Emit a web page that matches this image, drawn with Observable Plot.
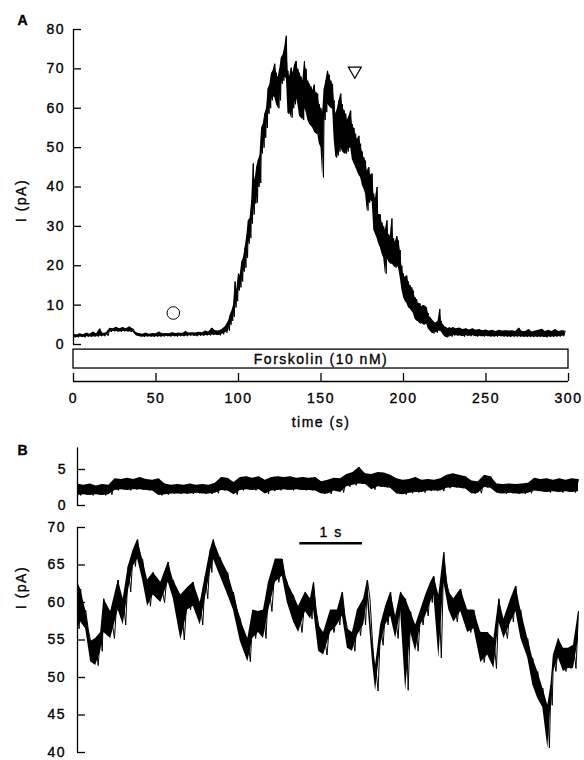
<!DOCTYPE html>
<html><head><meta charset="utf-8">
<script src="https://cdn.jsdelivr.net/npm/d3@7"></script>
<script src="https://cdn.jsdelivr.net/npm/@observablehq/plot@0.6"></script>
<style>
html,body{margin:0;padding:0;background:#fff;}
#fig{position:relative;width:584px;height:760px;overflow:hidden;background:#fff;}
#fig svg{position:absolute;left:0;}
#fig svg text{letter-spacing:1.5px;stroke:black;stroke-width:0.35px;}
</style></head><body><div id="fig"></div>
<script>
// ---------- Panel A data (time in s, current in pA: upper / lower edge of the noisy trace) ----------
const aTime = [].concat(d3.range(0, 93, 2), d3.range(94, 231, 1), d3.range(232, 299, 2));
const aHi = [
  2.6,2.4,2.7,2.5,2.9,2.6,3.2,2.7,4.0,2.8, 3.0,4.1,4.0,4.4,4.0,4.3,4.0,4.5,4.0,3.0,
  2.8,2.6,2.9,2.6,2.8,2.7,3.2,2.7,2.8,2.7, 3.0,2.8,2.9,2.8,3.3,2.9,3.0,2.9,3.1,3.0,
  3.4,3.2,4.2,3.5,3.4,3.8,4.5,
  6.0,7.5,8.5,10.0,16.0,14.0,18.0,17.5,21.0,22.0, 24.6,27.5,31.5,32.0,36.5,46.0,41.6,45.0,46.7,48.0,
  55.0,56.0,58.6,60.0,65.0,66.0,68.8,69.5,71.3,69.0, 67.8,70.0,72.8,73.5,75.4,78.4,69.5,68.0,70.3,69.0,
  71.0,72.0,70.0,69.0,68.0,67.0,72.0,70.0,67.0,66.2, 65.5,64.5,66.0,64.0,63.7,61.0,60.0,59.0,65.0,67.0,
  69.5,68.5,67.0,66.2,62.0,58.6,60.0,62.0,63.7,61.0, 59.5,58.6,57.0,58.0,59.4,56.0,55.0,53.5,52.0,53.0,
  51.0,49.0,47.5,46.7,44.0,45.0,43.0,43.4,38.3,37.0, 40.0,33.0,33.0,31.0,30.0,29.0,31.5,28.0,27.5,32.0,
  27.0,26.0,27.5,26.4,24.0,20.0,18.0,17.0,17.5,16.0, 15.0,14.5,13.7,12.0,11.5,10.5,10.4,9.5,10.0,9.8,
  9.4,8.0,7.0,6.5,6.0,5.5,5.5,6.0,9.0,6.0, 5.0,4.5,4.3,4.0,4.3,4.0,4.3,
  4.0,4.2,3.8,4.0,3.7,4.0,3.6,3.8,3.5,3.7, 3.4,3.6,3.3,3.6,3.4,3.5,3.4,3.5,3.3,4.2,
  3.3,3.3,3.8,3.2,3.4,3.6,3.9,3.3,3.6,3.3, 3.8,3.3,3.5,3.4
];
const aLo = [
  1.8,1.8,1.9,1.8,2.0,1.9,2.0,2.0,2.1,2.1, 2.2,3.2,3.3,3.3,3.2,3.3,3.3,3.2,3.2,2.2,
  2.0,1.9,2.0,2.0,1.9,2.0,2.0,2.0,2.1,2.0, 2.1,2.0,2.1,2.1,2.1,2.2,2.2,2.1,2.2,2.2,
  2.3,2.3,2.4,2.4,2.3,2.6,3.0,
  3.5,5.0,6.0,7.0,9.4,11.0,13.7,14.5,16.0,18.5, 19.5,22.0,25.6,27.0,30.7,33.0,35.8,36.0,40.0,41.0,
  48.5,50.0,52.5,55.0,58.6,60.0,62.0,63.0,62.7,61.0, 60.0,62.0,66.2,67.0,67.8,68.0,58.6,59.0,57.6,60.0,
  61.0,62.7,61.0,58.0,57.5,57.0,60.0,59.0,57.0,56.0, 55.5,55.0,54.0,53.5,53.5,51.0,50.0,42.4,57.0,59.0,
  61.0,60.5,60.0,60.0,52.0,47.5,48.0,49.0,50.0,49.0, 48.5,48.5,49.0,50.0,50.0,47.0,46.0,45.0,44.0,43.0,
  42.4,40.5,39.5,38.3,34.0,36.0,36.5,36.5,29.0,28.0, 27.0,25.5,24.6,23.0,22.0,18.0,22.0,21.0,20.5,20.5,
  20.0,19.5,20.0,19.5,17.0,14.0,12.0,11.0,10.5,9.4, 9.0,8.5,7.9,6.5,6.0,5.8,5.3,5.5,5.0,5.2,
  5.3,4.0,3.5,3.0,2.8,3.2,3.0,3.5,3.5,3.2, 2.5,2.0,1.8,2.0,2.2,2.0,2.3,
  2.2,2.2,2.0,2.2,2.1,2.2,2.0,2.1,2.0,2.1, 2.0,2.0,2.0,2.1,2.0,2.0,1.9,2.0,2.0,2.0,
  1.9,1.9,1.9,1.9,1.9,1.9,1.9,1.8,1.9,1.9, 2.0,2.0,2.1,2.2
];
const aXTicks = [0, 50, 100, 150, 200, 250, 300];
const aYTicks = [0, 10, 20, 30, 40, 50, 60, 70, 80];
const forskolin = {start: 0, end: 300, label: "Forskolin (10 nM)"};
const markerTime = [60.5, 170.5];
const markerValue = [8, 69.5];
const markerSymbol = ["circle", "triangle"];

// ---------- Panel B, upper trace (before forskolin, 8 s window) ----------
const bTopTime = d3.range(0, 8.05, 0.1);
const bTopHi = [
  3.0,2.8,3.0,2.7,2.9,2.8,3.7,3.6,3.8,3.6, 3.9,3.6,3.5,3.7,3.0,2.8,2.9,2.8,3.0,2.8,
  2.9,2.8,3.1,3.9,3.8,3.2,3.9,4.0,3.8,4.0, 3.5,3.9,4.0,3.9,4.0,3.8,3.9,3.8,3.9,3.3,
  3.5,3.8,3.7,4.3,4.6,5.3,4.4,4.3,4.6,4.5, 4.2,3.7,3.5,3.6,3.9,3.5,3.6,3.5,3.7,4.2,
  4.4,4.2,4.0,3.4,3.3,4.2,4.0,3.0,2.9,3.0, 2.9,3.0,3.1,3.8,3.6,3.7,3.5,3.7,3.5,3.7,
  3.6
];
const bTopLo = [
  1.4,1.5,1.4,1.5,1.4,1.5,2.1,2.2,2.1,2.2, 2.2,2.1,2.0,1.4,1.5,1.6,1.6,1.6,1.6,1.7,
  1.6,1.6,1.7,2.1,2.0,1.5,2.1,2.2,2.1,2.2, 1.6,2.0,2.1,2.2,2.1,2.2,2.1,2.1,2.0,1.6,
  1.6,2.0,1.8,2.6,2.8,3.0,2.9,2.2,2.6,2.5, 2.4,1.6,1.5,1.7,1.8,1.8,2.0,2.0,2.0,2.4,
  2.5,2.4,2.3,1.6,1.7,2.5,2.4,1.7,1.6,1.7, 1.6,1.6,1.7,2.0,1.9,1.8,1.9,1.8,1.9,1.8,
  1.9
];
const bTopTicks = [0, 5];

// ---------- Panel B, lower trace (at the peak of the response) ----------
const bTime = [0,0.05,0.13,0.21,0.29,0.37,0.42,0.53,0.65,0.73,0.81,0.89,0.96,1.04,1.12,1.21,1.33,1.45,1.53,1.65,
  1.76,1.85,1.96,2.04,2.12,2.17,2.28,2.40,2.49,2.60,2.72,2.80,2.89,2.97,3.05,3.16,3.27,3.35,3.45,3.53,
  3.64,3.72,3.77,3.85,3.93,4.04,4.15,4.23,4.31,4.39,4.47,4.57,4.63,4.71,4.76,4.84,4.92,5.00,5.08,5.16,
  5.24,5.32,5.40,5.48,5.56,5.64,5.69,5.77,5.85,5.93,6.01,6.12,6.23,6.33,6.44,6.55,6.65,6.73,6.81,6.92,
  7.00,7.08,7.19,7.27,7.35,7.43,7.51,7.56,7.60,7.68,7.76,7.84,7.92,8.00];
const bHi = [62.7,61.8,59,54.8,55.2,56,60.5,58.8,63,60.5,64.8,67,68.4,65.8,63,64,62.7,65.4,63,61,
  62,62.7,60,63.5,67,68.4,66,64,61.4,57.8,55.2,59,58.8,59,62.7,65.8,65.8,62.7,61,59.5,
  61.4,60.5,62.7,57,56,59,59,61.4,56.5,56,59,60.5,63,54.8,51.6,57,59.5,61.4,58.2,61.4,
  60.5,58.8,57,59,61,62.7,63.5,61,66.7,61.4,60.5,61.8,59,59,56,56,55.2,60.5,57.8,60.5,
  62.2,59,55.2,52.6,50.8,48.6,46.3,49,53,55.2,53.9,53.9,54.3,58.8];
const bLo = [56.5,57.4,56.5,52.1,51.6,53.5,56,55.2,59,57,61.4,64.8,65.8,63,59.5,61,60,62.7,60.5,55,
  59,59.5,57,60.5,64,65.8,63.5,61,59,54.8,52.1,55.2,56,55.2,58.8,62.7,63.5,60,57.4,56,
  58.8,57.8,59,53.5,53,56,57,58.2,53.9,53.5,55.6,57,60.5,52.1,48.2,54.3,57,58.2,55.2,58.8,
  48.3,56,53.5,57,58.2,60,61,52.6,62.7,59,57.4,58.8,56,56.5,52,53,51.2,57.4,55.2,57.4,
  58.8,55.2,52.6,49,47.2,46,40.6,46.3,50.8,52.6,50.8,51.2,51.2,55.2];
const bTicks = [40, 45, 50, 55, 60, 65, 70];
const scaleBar = {start: 3.55, end: 4.55, level: 67.9, textLevel: 69.3, label: "1 s"};

// ---------- helpers ----------
function knots(t, hi, lo) { return t.map((x, i) => ({t: x, hi: hi[i], lo: lo[i]})); }
function zigzag(t, hi, lo) {
  const pts = [];
  for (let i = 0; i < t.length; i++) {
    const dt = i < t.length - 1 ? t[i + 1] - t[i] : t[i] - t[i - 1];
    pts.push({t: t[i], v: hi[i]});
    if (i < t.length - 1) pts.push({t: t[i] + dt / 2, v: lo[i]});
  }
  return pts;
}
const font = "'Liberation Sans', Arial, Helvetica, sans-serif";
const baseStyle = {fontSize: "14px", fontFamily: font, color: "black", background: "transparent", overflow: "visible"};
const fig = document.getElementById("fig");

// ---------- Panel A ----------
const aK = knots(aTime, aHi, aLo);
const aZ = zigzag(aTime, aHi, aLo);
const markers = markerTime.map((t, i) => ({t, v: markerValue[i], s: markerSymbol[i]}));
const plotA = Plot.plot({
  width: 584, height: 440,
  marginLeft: 73, marginRight: 16, marginTop: 29, marginBottom: 96,
  x: {domain: [0, 300]},
  y: {domain: [0, 80]},
  style: baseStyle,
  marks: [
    Plot.areaY(aK, {x: "t", y1: "lo", y2: "hi", fill: "black"}),
    Plot.line(aZ, {x: "t", y: "v", stroke: "black", strokeWidth: 1}),
    Plot.ruleX([0], {stroke: "black", strokeWidth: 1.3}),
    Plot.axisY({ticks: aYTicks, tickSize: -8, tickPadding: 16.5, label: null, strokeWidth: 1.3}),
    Plot.ruleY([0], {dy: 37, stroke: "black", strokeWidth: 1.3}),
    Plot.axisX({ticks: aXTicks, tickSize: -8, tickPadding: 20, dy: 37, label: null, strokeWidth: 1.3}),
    Plot.rect([forskolin], {x1: "start", x2: "end", y1: -1.3, y2: -6.1, fill: "none", stroke: "black", strokeWidth: 1.3}),
    Plot.text([forskolin], {x: d => (d.start + d.end) / 2, y: -3.7, text: "label", fontSize: 14}),
    Plot.dot(markers.filter(d => d.s === "circle"), {x: "t", y: "v", r: 6.3, symbol: "circle", stroke: "black", fill: "none", strokeWidth: 1}),
    Plot.dot(markers.filter(d => d.s === "triangle"), {x: "t", y: "v", r: 4.8, symbol: "triangle", rotate: 180, stroke: "black", fill: "none", strokeWidth: 1.2}),
    Plot.text(["I (pA)"], {frameAnchor: "left", dx: -51.5, dy: 13.5, rotate: -90, textAnchor: "middle", lineAnchor: "middle", text: d => d}),
    Plot.text(["time (s)"], {frameAnchor: "bottom", dy: 78, lineAnchor: "middle", text: d => d}),
    Plot.text(["A"], {frameAnchor: "top-left", dx: -56, dy: -14, textAnchor: "start", lineAnchor: "top", fontWeight: "bold", text: d => d})
  ]
});
plotA.style.top = "0px";
fig.appendChild(plotA);

// ---------- Panel B upper ----------
const btK = knots(bTopTime, bTopHi, bTopLo);
const btZ = zigzag(bTopTime, bTopHi, bTopLo);
const plotB1 = Plot.plot({
  width: 584, height: 70,
  marginLeft: 77, marginRight: 6, marginTop: 7.4, marginBottom: 5,
  x: {domain: [0, 8], axis: null},
  y: {domain: [0, 8]},
  style: baseStyle,
  marks: [
    Plot.areaY(btK, {x: "t", y1: "lo", y2: "hi", fill: "black"}),
    Plot.line(btZ, {x: "t", y: "v", stroke: "black", strokeWidth: 1}),
    Plot.ruleX([0], {stroke: "black", strokeWidth: 1.3}),
    Plot.axisY({ticks: bTopTicks, tickSize: -8, tickPadding: 18.5, label: null, strokeWidth: 1.3}),
    Plot.text(["B"], {frameAnchor: "top-left", dx: -60, dy: -2.4, textAnchor: "start", lineAnchor: "top", fontWeight: "bold", text: d => d})
  ]
});
plotB1.style.top = "440px";
fig.appendChild(plotB1);

// ---------- Panel B lower ----------
const bK = knots(bTime, bHi, bLo);
const bZ = zigzag(bTime, bHi, bLo);
const plotB2 = Plot.plot({
  width: 584, height: 250,
  marginLeft: 77, marginRight: 6, marginTop: 17, marginBottom: 8,
  x: {domain: [0, 8], axis: null},
  y: {domain: [40, 70]},
  style: baseStyle,
  marks: [
    Plot.areaY(bK, {x: "t", y1: "lo", y2: "hi", fill: "black"}),
    Plot.line(bZ, {x: "t", y: "v", stroke: "black", strokeWidth: 1}),
    Plot.ruleX([0], {stroke: "black", strokeWidth: 1.3}),
    Plot.axisY({ticks: bTicks, tickSize: -8, tickPadding: 19.5, label: null, strokeWidth: 1.3}),
    Plot.ruleY([scaleBar], {y: "level", x1: "start", x2: "end", stroke: "black", strokeWidth: 2.5}),
    Plot.text([scaleBar], {x: d => (d.start + d.end) / 2, y: "textLevel", text: "label"}),
    Plot.text(["I (pA)"], {frameAnchor: "left", dx: -55.5, dy: -52.5, rotate: -90, textAnchor: "middle", lineAnchor: "middle", text: d => d})
  ]
});
plotB2.style.top = "510px";
fig.appendChild(plotB2);
</script></body></html>
